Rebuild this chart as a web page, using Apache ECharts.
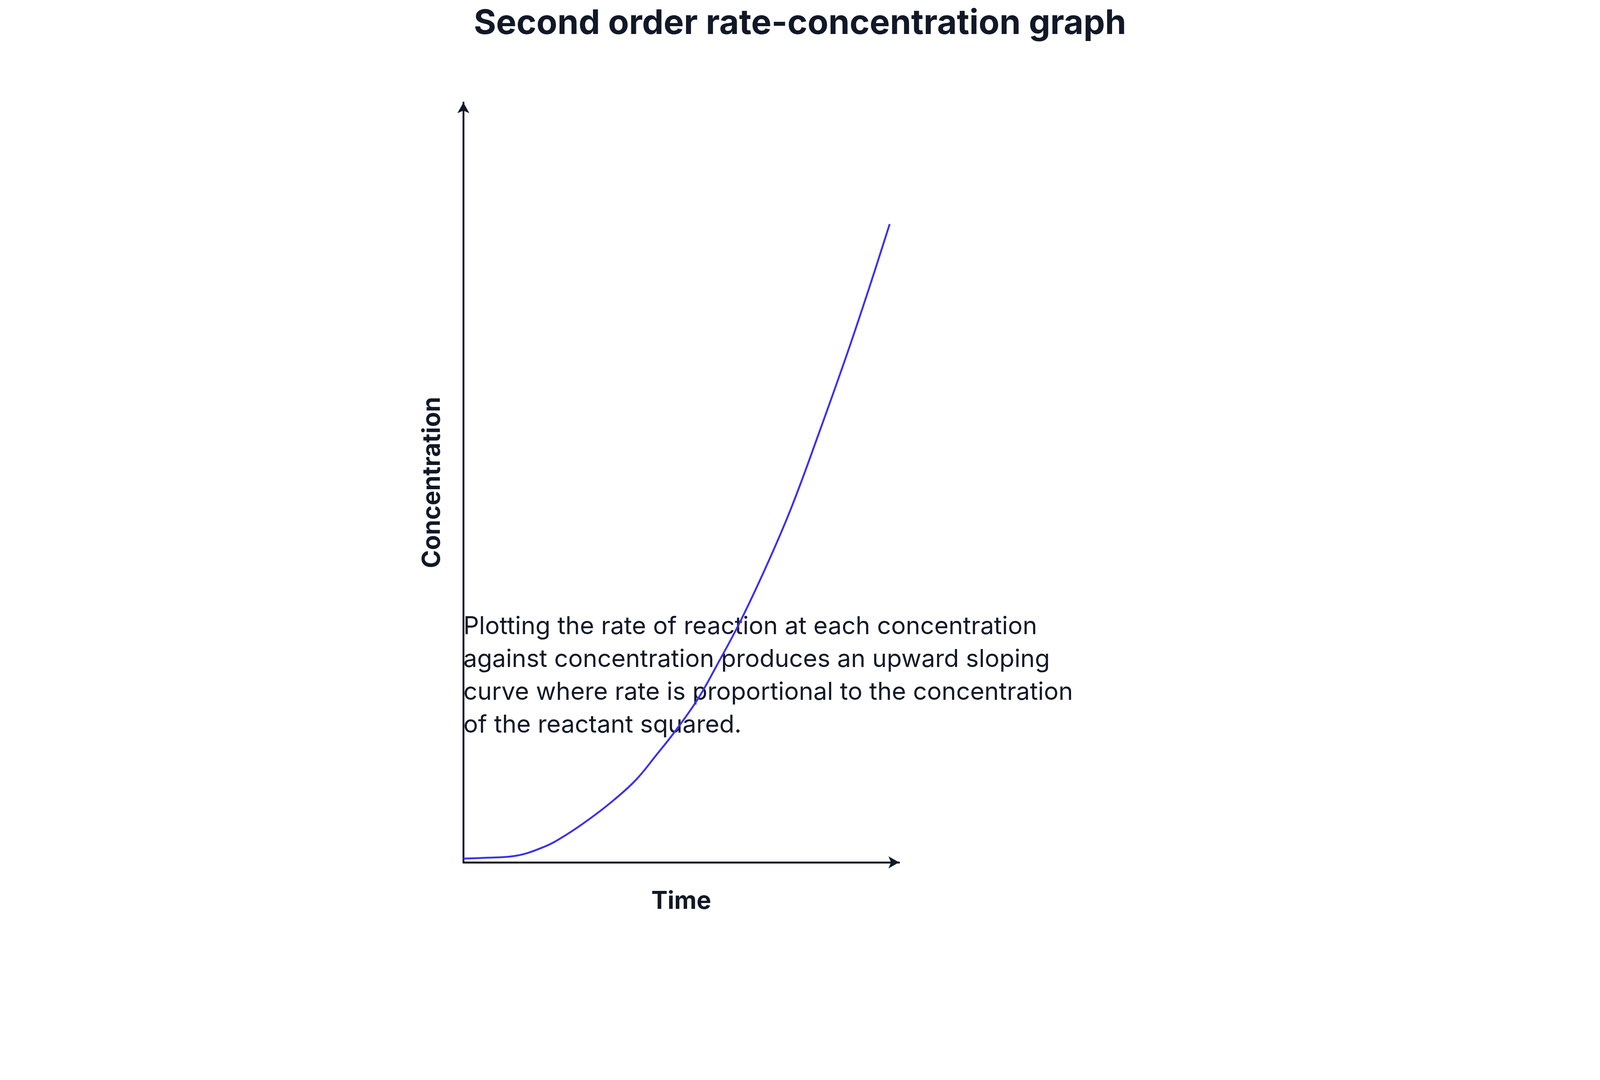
<!DOCTYPE html>
<html>
<head>
<meta charset="utf-8">
<script src="https://cdn.jsdelivr.net/npm/echarts@6/dist/echarts.min.js"></script>
<style>html,body{margin:0;padding:0;background:#fff;overflow:hidden}#chart{width:100vw;height:100vh}</style>
</head>
<body>
<div id="chart"></div>
<script>
// curve: time vs concentration
var timeValues = [0, 5, 11.5, 18.7, 24, 29.5, 35, 40.3, 45, 49.9, 55, 59.5, 65, 71.5, 77, 83.5, 90, 95, 99.8];
var concValues = [0.5, 0.6, 0.8, 2, 3.6, 5.7, 8.1, 10.8, 14, 17.5, 21.6, 26.1, 31.9, 39.7, 47.0, 56.9, 67.2, 75.6, 84];
var captionLines = [
    'Plotting the rate of reaction at each concentration',
    'against concentration produces an upward sloping',
    'curve where rate is proportional to the concentration',
    'of the reactant squared.'
];

var ink = '#111827';
// everything is laid out for a 6008px wide picture, scaled to the real viewport
var s = window.innerWidth / 6008;
var chart = echarts.init(document.getElementById('chart'));

var points = [];
for (var i = 0; i < timeValues.length; i++) {
    points.push([timeValues[i], concValues[i]]);
}

var axisLine = {
    show: true,
    symbol: ['none', 'arrow'],
    symbolSize: [34 * s, 40 * s],
    lineStyle: {color: ink, width: 7 * s}
};

var option = {
    backgroundColor: '#fff',
    textStyle: {fontFamily: 'Inter'},
    title: {
        text: 'Second order rate-concentration graph',
        left: 'center',
        top: 18 * s,
        textStyle: {fontSize: 128 * s, fontWeight: 'bold', color: ink, fontFamily: 'Inter'}
    },
    grid: {left: 1740 * s, right: 2632 * s, top: 385 * s, bottom: 817 * s},
    xAxis: {
        type: 'value', min: 0, max: 102,
        name: 'Time', nameLocation: 'middle', nameGap: 100 * s,
        nameTextStyle: {fontSize: 92 * s, fontWeight: 'bold', color: ink},
        axisLine: axisLine,
        axisTick: {show: false}, axisLabel: {show: false}, splitLine: {show: false}
    },
    yAxis: {
        type: 'value', min: 0, max: 100,
        name: 'Concentration', nameLocation: 'middle', nameGap: 70 * s,
        nameTextStyle: {fontSize: 92 * s, fontWeight: 'bold', color: ink},
        axisLine: axisLine,
        axisTick: {show: false}, axisLabel: {show: false}, splitLine: {show: false}
    },
    series: [{
        type: 'line',
        data: points,
        smooth: 0.4,
        showSymbol: false,
        lineStyle: {color: '#3b30f0', width: 7 * s}
    }],
    graphic: [{
        type: 'text',
        left: 1740 * s,
        top: 2292 * s,
        style: {
            text: captionLines.join('\n'),
            fontSize: 92 * s,
            lineHeight: 123 * s,
            fontFamily: 'Inter',
            fill: ink
        }
    }]
};

chart.setOption(option);
</script>
</body>
</html>
